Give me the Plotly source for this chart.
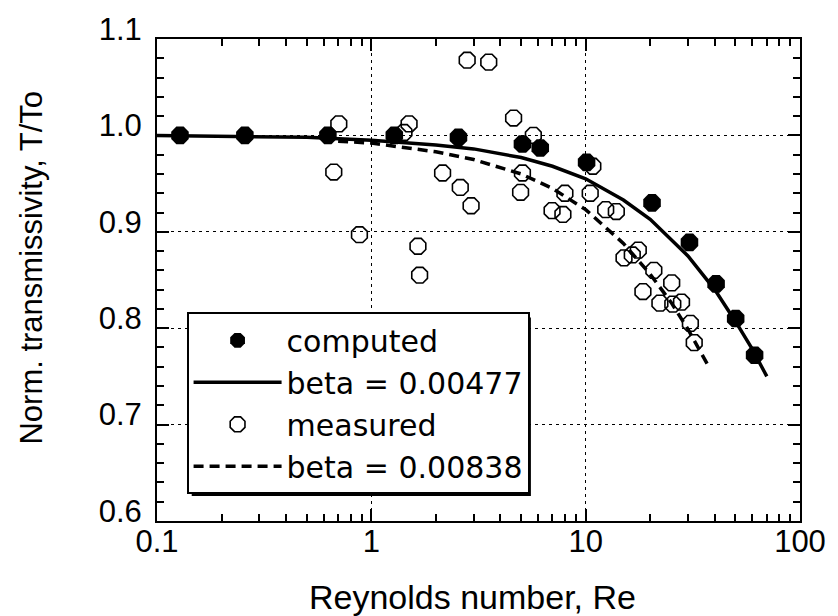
import plotly.graph_objects as go

# ---- data ----
computed_re = [0.128, 0.257, 0.627, 1.28, 2.55, 5.07, 6.14, 10.1, 20.4, 30.5, 40.6, 50.1, 61.4]
computed_t = [1.000, 1.000, 1.000, 1.000, 0.998, 0.991, 0.987, 0.972, 0.930, 0.889, 0.846, 0.810, 0.772]

measured_re = [0.705, 0.668, 0.88, 1.50, 1.42, 1.65, 1.68, 2.15, 2.60, 2.92, 2.80, 3.53,
               4.61, 5.70, 5.07, 4.97, 10.8, 8.0, 6.97, 7.83, 10.5, 12.4, 13.9, 15.1,
               16.5, 17.6, 20.8, 18.5, 25.2, 22.2, 25.5, 28.0, 30.8, 32.1]
measured_t = [1.012, 0.962, 0.897, 1.012, 1.003, 0.885, 0.855, 0.961, 0.946, 0.927, 1.078, 1.076,
              1.018, 1.000, 0.961, 0.941, 0.968, 0.940, 0.922, 0.918, 0.940, 0.923, 0.921, 0.873,
              0.876, 0.881, 0.860, 0.838, 0.847, 0.826, 0.825, 0.827, 0.805, 0.785]

fit1_re = [0.1, 0.2, 0.5, 1, 2, 3, 5, 7, 10, 15, 20, 30, 40, 50, 60, 70]
fit1_t = [1.000, 0.999, 0.998, 0.995, 0.990, 0.986, 0.977, 0.968, 0.955, 0.933, 0.913, 0.875,
          0.840, 0.807, 0.778, 0.750]

fit2_re = [0.7, 1, 2, 3, 5, 7, 10, 15, 20, 25, 30, 35, 38]
fit2_t = [0.994, 0.992, 0.983, 0.975, 0.960, 0.945, 0.923, 0.888, 0.856, 0.827, 0.799, 0.773, 0.758]

names = ["computed", "beta = 0.00477", "measured", "beta = 0.00838"]
x_ticks = [0.1, 1, 10, 100]
x_ticklabels = ["0.1", "1", "10", "100"]

FONT = "Liberation Sans, Arial, sans-serif"

fig = go.Figure()
fig.add_trace(go.Scatter(x=computed_re, y=computed_t, mode="markers", name=names[0],
                         marker=dict(symbol="octagon", size=19, color="black",
                                     line=dict(width=0))))
fig.add_trace(go.Scatter(x=fit1_re, y=fit1_t, mode="lines", name=names[1],
                         line=dict(color="black", width=3.5)))
fig.add_trace(go.Scatter(x=measured_re, y=measured_t, mode="markers", name=names[2],
                         marker=dict(symbol="octagon-open", size=17, color="black",
                                     line=dict(width=1.6, color="black"))))
fig.add_trace(go.Scatter(x=fit2_re, y=fit2_t, mode="lines", name=names[3],
                         line=dict(color="black", width=3.5, dash="10px,6px")))

axis_common = dict(
    showline=True, linecolor="black", linewidth=2, mirror="allticks",
    ticks="inside", ticklen=12, tickwidth=1.5, tickcolor="black",
    showgrid=True, gridcolor="black", gridwidth=1, griddash="3px,4px",
    zeroline=False,
    tickfont=dict(family=FONT, size=31, color="black"),
)

fig.update_xaxes(type="log", range=[-1, 2], tickvals=x_ticks, ticktext=x_ticklabels,
                 ticklabelstandoff=-8,
                 minor=dict(ticks="inside", ticklen=7, tickwidth=1.5, tickcolor="black",
                            dtick="D1", showgrid=False),
                 **axis_common)
fig.update_yaxes(range=[0.6, 1.1], dtick=0.1, tickformat=".1f", ticklabelshift=-10,
                 ticklabelstandoff=7,
                 minor=dict(ticks="inside", ticklen=7, tickwidth=1.5, tickcolor="black",
                            dtick=0.02, showgrid=False),
                 **axis_common)

fig.update_layout(
    width=838, height=616,
    margin=dict(l=157, r=31, t=38, b=95),
    paper_bgcolor="white", plot_bgcolor="white",
    font=dict(family=FONT, color="black"),
    showlegend=True,
    legend=dict(x=0.046, y=0.433, xanchor="left", yanchor="top",
                bgcolor="white", bordercolor="black", borderwidth=2,
                itemwidth=88, itemsizing="trace",
                font=dict(family="DejaVu Sans", size=30, color="black")),
    shapes=[dict(type="rect", xref="paper", yref="paper",
                 x0=0.054, x1=0.5815, y0=0.0518, y1=0.422,
                 fillcolor="black", line=dict(width=0), layer="above")],
    annotations=[
        dict(text="Norm. transmissivity, T/To", xref="paper", yref="paper",
             x=-0.195, y=0.525, xanchor="center", yanchor="middle", textangle=-90,
             showarrow=False, font=dict(family=FONT, size=31, color="black")),
        dict(text="Reynolds number, Re", xref="paper", yref="paper",
             x=0.49, y=-0.157, xanchor="center", yanchor="middle",
             showarrow=False, font=dict(family=FONT, size=34, color="black")),
    ],
)

fig.write_html("out.html")
